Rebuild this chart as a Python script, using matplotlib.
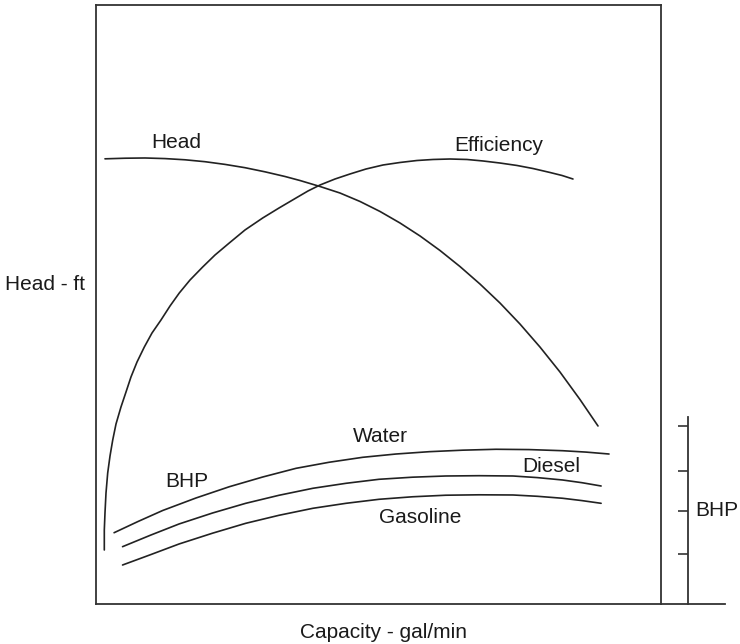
import matplotlib.pyplot as plt

plt.rcParams['font.family'] = ['Liberation Sans', 'DejaVu Sans']

#Curve data (capacity and head in % of the box)
head_x = [1.59, 5.13, 8.67, 12.21, 15.75, 19.29, 22.83, 26.37, 29.91, 33.45, 36.1, 39.65, 43.19,
          46.73, 50.27, 53.8, 57.35, 60.88, 64.42, 67.96, 71.5, 75.04, 78.58, 82.12, 85.66, 88.85]
head_y = [74.32, 74.42, 74.46, 74.36, 74.16, 73.84, 73.39, 72.84, 72.15, 71.37, 70.70, 69.70, 68.61,
          67.20, 65.53, 63.61, 61.44, 59.02, 56.34, 53.42, 50.25, 46.74, 42.90, 38.73, 34.14, 29.72]

eff_x = [1.47, 1.47, 1.59, 1.77, 2.07, 2.48, 2.96, 3.54, 4.42, 5.31, 6.19, 7.26, 8.55, 9.91, 11.5,
         13.1, 14.74, 16.64, 18.88, 21.06, 23.59, 26.37, 29.5, 32.39, 35.4, 37.52, 39.65, 42.3,
         44.96, 47.79, 50.8, 53.81, 56.81, 59.65, 62.65, 65.66, 68.5, 71.5, 74.51, 77.35, 80.35,
         82.48, 84.42]
eff_y = [9.02, 12.35, 15.19, 18.53, 21.87, 24.71, 27.38, 30.05, 32.89, 35.39, 37.90, 40.40, 42.90,
         45.24, 47.41, 49.75, 51.92, 54.09, 56.26, 58.26, 60.27, 62.44, 64.44, 66.11, 67.78, 68.95,
         69.95, 70.95, 71.79, 72.62, 73.29, 73.71, 74.04, 74.21, 74.29, 74.21, 73.96, 73.62, 73.21,
         72.70, 72.04, 71.54, 70.95]

#BHP curves
water_x = [3.2, 7.43, 11.8, 17.7, 23.6, 29.5, 35.4, 41.24, 47.2, 53.1, 59.0, 64.9, 70.8, 76.64,
           82.6, 86.73, 90.8]
water_y = [11.90, 13.77, 15.61, 17.70, 19.58, 21.20, 22.65, 23.66, 24.49, 25.04, 25.43, 25.68,
           25.83, 25.78, 25.59, 25.36, 25.04]

diesel_x = [4.7, 9.73, 14.7, 20.62, 26.5, 32.39, 38.4, 44.25, 50.1, 56.02, 61.9, 67.79, 73.8,
            78.14, 82.6, 86.02, 89.4]
diesel_y = [9.57, 11.52, 13.36, 15.19, 16.81, 18.15, 19.32, 20.15, 20.82, 21.17, 21.37, 21.42,
            21.37, 21.10, 20.70, 20.25, 19.70]

gas_x = [4.7, 9.73, 14.7, 20.62, 26.5, 32.39, 38.4, 44.25, 50.1, 56.02, 61.9, 67.79, 73.8,
         78.14, 82.6, 86.02, 89.4]
gas_y = [6.51, 8.26, 10.02, 11.82, 13.47, 14.81, 15.98, 16.81, 17.48, 17.90, 18.16, 18.23,
         18.20, 17.98, 17.65, 17.26, 16.81]

#Curve labels: text, x, y
curve_labels = [
    ("Head", 14.2, 77.0),
    ("Efficiency", 71.2, 76.6),
    ("Water", 50.4, 27.9),
    ("Diesel", 80.5, 22.9),
    ("Gasoline", 57.3, 14.5),
    ("BHP", 16.1, 20.4),
]

#BHP scale ticks (% of the BHP axis height)
bhp_ticks = [26.7, 49.7, 71.1, 95.2]

W, H = 740, 644
line_color = "#222222"
frame_color = "#333333"

fig = plt.figure(figsize=(W / 100, H / 100), dpi=100)
fig.patch.set_facecolor("white")

#Main box
ax = fig.add_axes([96 / W, 40 / H, 565 / W, 599 / H])
ax.set_xlim(0, 100)
ax.set_ylim(0, 100)
ax.set_xticks([])
ax.set_yticks([])
for s in ax.spines.values():
    s.set_color(frame_color)
    s.set_linewidth(1.3)

for xs, ys in [(head_x, head_y), (eff_x, eff_y), (water_x, water_y),
               (diesel_x, diesel_y), (gas_x, gas_y)]:
    ax.plot(xs, ys, color=line_color, linewidth=1.2,
            solid_capstyle="round", solid_joinstyle="round")

for txt, x, y in curve_labels:
    ax.text(x, y, txt, fontsize=15, ha="center", va="center", color="#1a1a1a")

#Bottom line runs on past the box
ax.plot([100, 111.3], [0, 0], color=frame_color, linewidth=1.3, clip_on=False)

#BHP scale at the right
bax = fig.add_axes([688 / W, 40 / H, 1 / W, 187 / H])
bax.set_ylim(0, 100)
bax.set_xticks([])
bax.patch.set_alpha(0)
for side in ["top", "right", "bottom"]:
    bax.spines[side].set_visible(False)
bax.spines["left"].set_color(frame_color)
bax.spines["left"].set_linewidth(1.3)
bax.set_yticks(bhp_ticks)
bax.set_yticklabels([])
bax.tick_params(axis="y", direction="out", length=7, width=1.2, color=frame_color)
fig.text(695 / W, 1 - 510 / H, "BHP", fontsize=15, ha="left", va="center", color="#1a1a1a")

#Axis titles
fig.text(5 / W, 1 - 284 / H, "Head - ft", fontsize=15, ha="left", va="center", color="#1a1a1a")
fig.text(384 / W, 1 - 632 / H, "Capacity - gal/min", fontsize=15, ha="center", va="center", color="#1a1a1a")

plt.savefig("out.png", dpi=100)
plt.close()
